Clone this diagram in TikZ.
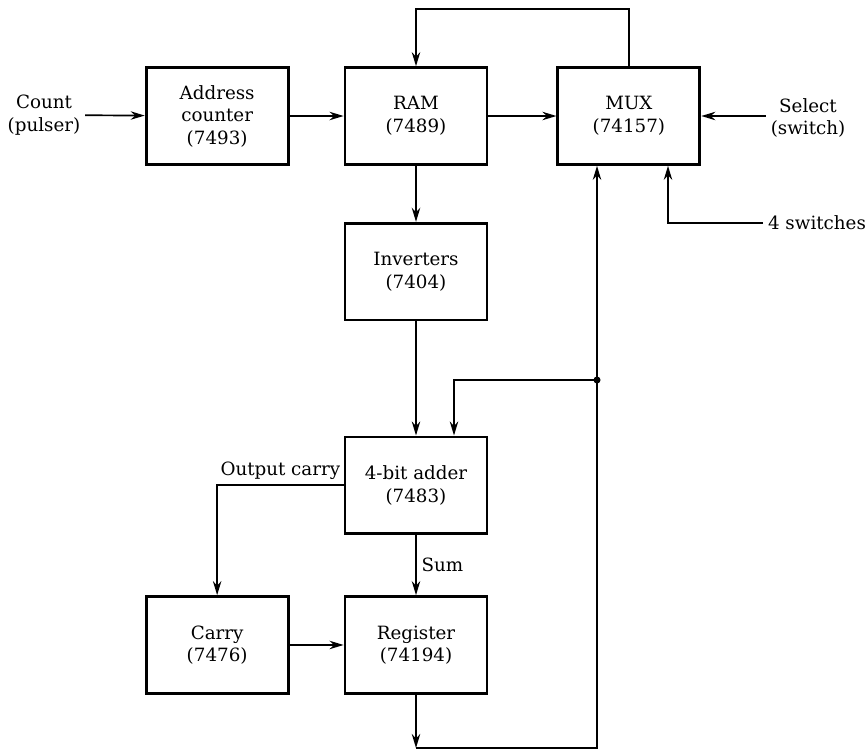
\documentclass[tikz,border=0pt]{standalone}
\usepackage{fontspec}
\setmainfont{DejaVu Serif}
\usetikzlibrary{positioning}
\usetikzlibrary{arrows.meta}
\tikzset{
chip/.style={rectangle, draw, line width=2pt, minimum width=3.55cm, minimum height=2.42cm, align=center, font=\fontsize{13}{16}\selectfont},
io_text/.style={align=center, font=\fontsize{13}{16}\selectfont},
wire/.style={line width=1.2pt, -{Stealth[length=10pt,width=6pt]}}
}

\begin{document}
\begin{tikzpicture}[x=0.025cm, y=0.025cm]
    \useasboundingbox (0,0) rectangle (868,-752);
    \node[chip] (ram) at (416,-116) {RAM\\(7489)};
    \node[chip] (counter) [left=1.35cm of ram] {Address\\counter\\(7493)};
    \node[chip] (mux) [right=1.7cm of ram] {MUX\\(74157)};
    \node[chip] (inverters) [below=1.4cm of ram] {Inverters\\(7404)};
    \node[chip] (adder) [below=2.85cm of inverters] {4-bit adder\\(7483)};
    \node[chip] (register) [below=1.5cm of adder] {Register\\(74194)};
    \node[chip] (carry) [left=1.35cm of register] {Carry\\(7476)};

    \node[io_text] (count) at (44,-115) {Count\\(pulser)};
    \node[io_text] (select) at (808,-118) {Select\\(switch)};
    \node[io_text] (switches) at (817,-223) {4 switches};

    \coordinate (top) at (0,-9);
    \coordinate (bottom) at (0,-748);
    \coordinate (bus) at (597,-380);
    \coordinate (adder_in) at (454,0);
    \coordinate (sw_in) at (668,0);

    \draw[wire] (count) -- (counter);
    \draw[wire] (counter) -- (ram);
    \draw[wire] (ram) -- (mux);
    \draw[wire] (select.west |- mux.east) -- (mux.east);
    \draw[wire] (mux.north) -- (mux.north |- top) -| (ram.north);
    \draw[wire] (ram) -- (inverters);
    \draw[wire] (inverters) -- (adder);
    \draw[wire] (adder) -- node[right, io_text] {Sum} (register);
    \draw[wire] (adder.west) -| node[pos=0.25, above, io_text] {Output carry} (carry.north);
    \draw[wire] (carry) -- (register);
    \draw[wire] (switches.west) -| (sw_in |- mux.south);

    % feedback from the register to the MUX and the adder
    \draw[wire] (register.south) -- (register.south |- bottom);
    \draw[wire] (register.south |- bottom) -| (bus |- mux.south);
    \draw[wire] (bus) -| (adder_in |- adder.north);
    \fill (bus) circle (2.5pt);
\end{tikzpicture}
\end{document}
